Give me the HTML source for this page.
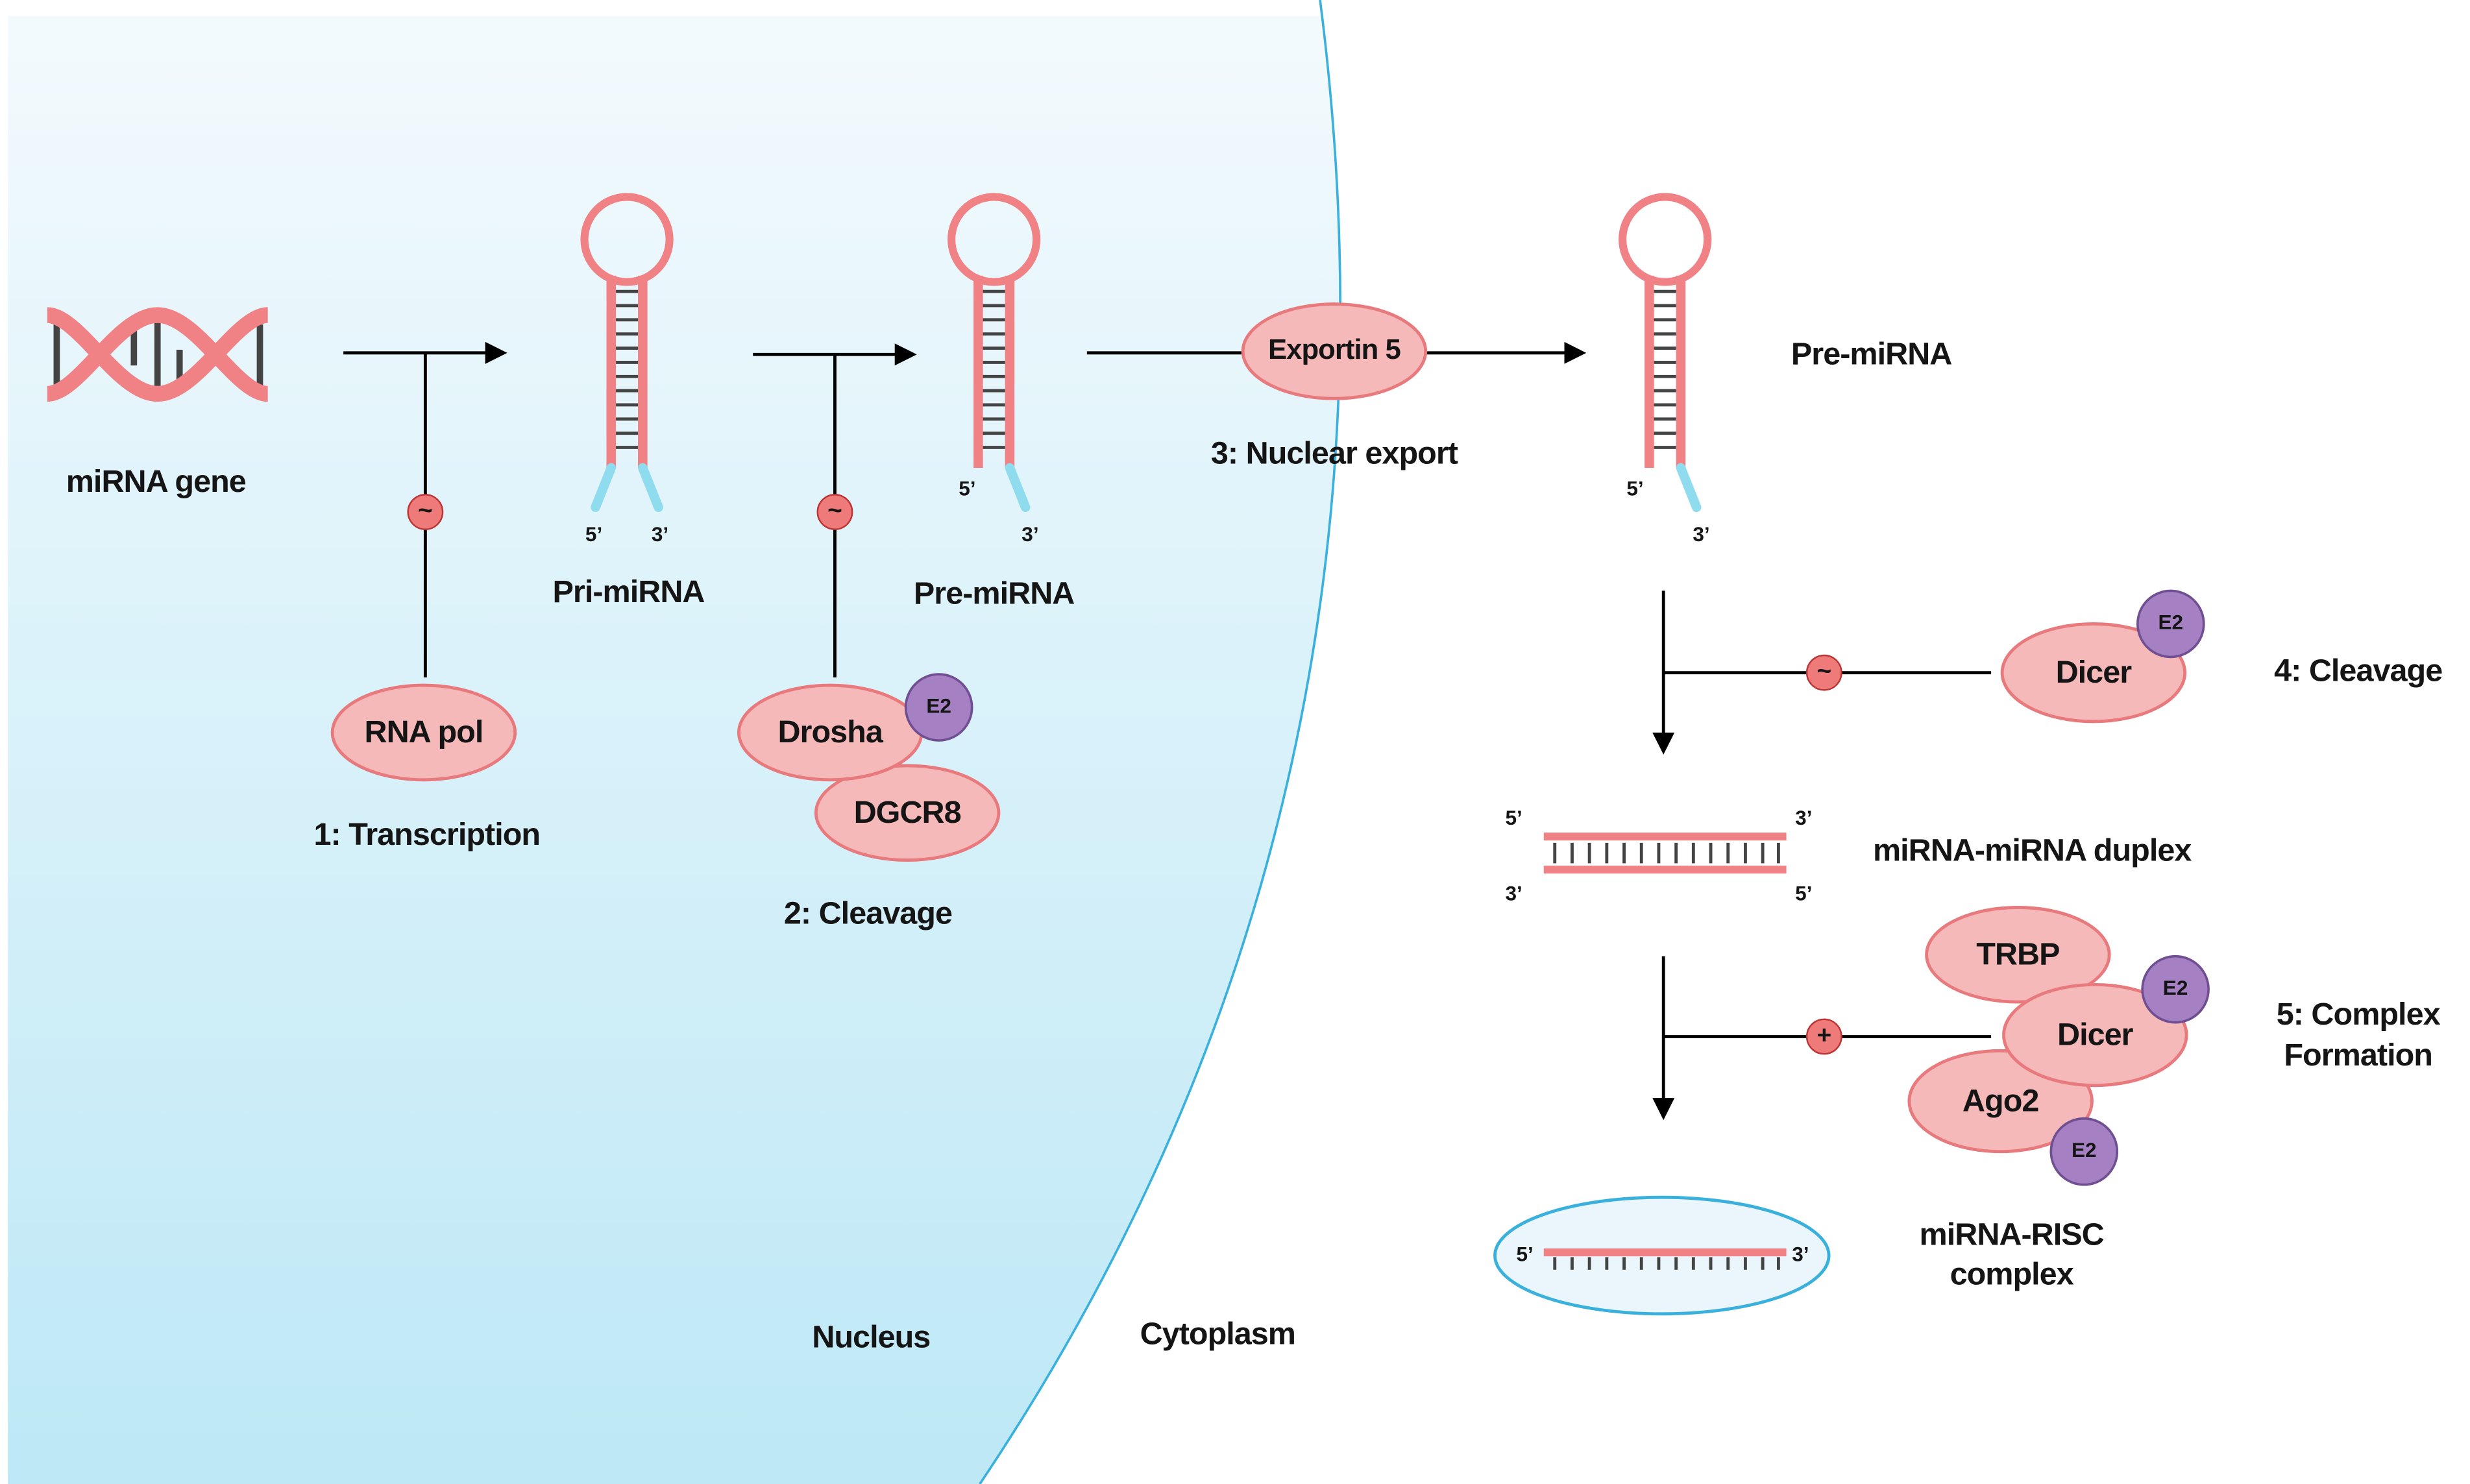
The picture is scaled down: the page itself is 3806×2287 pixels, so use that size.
<!DOCTYPE html>
<html><head><meta charset="utf-8"><style>
html,body{margin:0;padding:0;background:#fff}
svg{display:block}
text{font-family:"Liberation Sans",Arial,sans-serif;font-weight:bold;fill:#151515;text-anchor:middle;dominant-baseline:middle}
.t{font-size:20px;letter-spacing:-0.4px}.s{font-size:13px}.e{font-size:13px}
.p{fill:#f5b9b9;stroke:#e8797d;stroke-width:2}
.q{fill:#a581c3;stroke:#6f4f91;stroke-width:1.5}
.stem{stroke:#f08285;stroke-width:6;fill:none}
.bar{stroke:#444;stroke-width:2}
.tail{stroke:#8fdcef;stroke-width:6;stroke-linecap:round}
.ln{stroke:#000;stroke-width:2;fill:none}
</style></head><body>
<svg width="3806" height="2287" viewBox="0 0 1568 942" preserveAspectRatio="none">
<defs>
<linearGradient id="g" x1="0" y1="0" x2="0" y2="1"><stop offset="0" stop-color="#f3fafd"/><stop offset="1" stop-color="#bde8f6"/></linearGradient>
<marker id="ar" markerWidth="14" markerHeight="14" refX="12" refY="7" orient="auto" markerUnits="userSpaceOnUse"><path d="M0,0 L14,7 L0,14 Z" fill="#000"/></marker>
<g id="hp">
<circle cx="0" cy="-73" r="27" fill="none" stroke="#f08285" stroke-width="5"/>
<line class="stem" x1="-10" y1="-50" x2="-10" y2="72"/><line class="stem" x1="10" y1="-50" x2="10" y2="72"/>
<g class="bar"><line x1="-7" y1="-40" x2="7" y2="-40"/><line x1="-7" y1="-31" x2="7" y2="-31"/><line x1="-7" y1="-22" x2="7" y2="-22"/><line x1="-7" y1="-13" x2="7" y2="-13"/><line x1="-7" y1="-4" x2="7" y2="-4"/><line x1="-7" y1="5" x2="7" y2="5"/><line x1="-7" y1="14" x2="7" y2="14"/><line x1="-7" y1="23" x2="7" y2="23"/><line x1="-7" y1="32" x2="7" y2="32"/><line x1="-7" y1="41" x2="7" y2="41"/><line x1="-7" y1="50" x2="7" y2="50"/><line x1="-7" y1="59" x2="7" y2="59"/></g>
</g>
</defs>
<path d="M5,10 L838,10 Q905,520 622,942 L5,942 Z" fill="url(#g)"/>
<path d="M838,0 Q905,520 622,942" fill="none" stroke="#3ab0dd" stroke-width="1.5"/>

<g stroke="#444" stroke-width="4"><line x1="36" y1="206" x2="36" y2="246"/><line x1="85" y1="208" x2="85" y2="232"/><line x1="100" y1="205" x2="100" y2="245"/><line x1="114" y1="222" x2="114" y2="245"/><line x1="165" y1="206" x2="165" y2="246"/></g>
<g fill="none" stroke="#f08285" stroke-width="10"><path d="M30,200 C50,200 75,250 100,250 C125,250 150,200 170,200"/><path d="M30,250 C50,250 75,200 100,200 C125,200 150,250 170,250"/></g>
<text class="t" x="99" y="307">miRNA gene</text>

<line class="ln" x1="218" y1="224" x2="320" y2="224" marker-end="url(#ar)"/>
<line class="ln" x1="270" y1="224" x2="270" y2="430"/>
<circle cx="270" cy="325" r="11" fill="#ee7a7a" stroke="#b33" stroke-width="1"/><text x="270" y="325" style="font-size:16px">~</text>
<ellipse class="p" cx="269" cy="465" rx="58" ry="30"/><text class="t" x="269" y="466">RNA pol</text>
<text class="t" x="271" y="531">1: Transcription</text>

<use href="#hp" x="398" y="225"/>
<line class="tail" x1="388" y1="297" x2="378" y2="322"/><line class="tail" x1="408" y1="297" x2="418" y2="322"/>
<text class="s" x="377" y="340">5’</text><text class="s" x="419" y="340">3’</text>
<text class="t" x="399" y="377">Pri-miRNA</text>

<line class="ln" x1="478" y1="225" x2="580" y2="225" marker-end="url(#ar)"/>
<line class="ln" x1="530" y1="225" x2="530" y2="430"/>
<circle cx="530" cy="325" r="11" fill="#ee7a7a" stroke="#b33" stroke-width="1"/><text x="530" y="325" style="font-size:16px">~</text>
<ellipse class="p" cx="576" cy="516" rx="58" ry="30"/><text class="t" x="576" y="517">DGCR8</text>
<ellipse class="p" cx="527" cy="465" rx="58" ry="30"/><text class="t" x="527" y="466">Drosha</text>
<circle class="q" cx="596" cy="449" r="21"/><text class="e" x="596" y="449">E2</text>
<text class="t" x="551" y="581">2: Cleavage</text>

<use href="#hp" x="631" y="225"/>
<line class="tail" x1="641" y1="297" x2="651" y2="322"/>
<text class="s" x="614" y="311">5’</text><text class="s" x="654" y="340">3’</text>
<text class="t" x="631" y="378">Pre-miRNA</text>

<line class="ln" x1="690" y1="224" x2="1005" y2="224" marker-end="url(#ar)"/>
<ellipse class="p" cx="847" cy="223" rx="58" ry="30"/><text class="t" x="847" y="223" style="font-size:18px">Exportin 5</text>
<text class="t" x="847" y="289">3: Nuclear export</text>

<use href="#hp" x="1057" y="225"/>
<line class="tail" x1="1067" y1="297" x2="1077" y2="322"/>
<text class="s" x="1038" y="311">5’</text><text class="s" x="1080" y="340">3’</text>
<text class="t" x="1188" y="226">Pre-miRNA</text>

<line class="ln" x1="1056" y1="375" x2="1056" y2="477" marker-end="url(#ar)"/>
<line class="ln" x1="1056" y1="427" x2="1264" y2="427"/>
<circle cx="1158" cy="427" r="11" fill="#ee7a7a" stroke="#b33" stroke-width="1"/><text x="1158" y="427" style="font-size:16px">~</text>
<ellipse class="p" cx="1329" cy="427" rx="58" ry="31"/><text class="t" x="1329" y="428">Dicer</text>
<circle class="q" cx="1378" cy="396" r="21"/><text class="e" x="1378" y="396">E2</text>
<text class="t" x="1497" y="427">4: Cleavage</text>

<line x1="980" y1="531" x2="1134" y2="531" stroke="#f08285" stroke-width="5"/>
<line x1="980" y1="552" x2="1134" y2="552" stroke="#f08285" stroke-width="5"/>
<g class="bar"><line x1="987" y1="535" x2="987" y2="548"/><line x1="998" y1="535" x2="998" y2="548"/><line x1="1009" y1="535" x2="1009" y2="548"/><line x1="1020" y1="535" x2="1020" y2="548"/><line x1="1031" y1="535" x2="1031" y2="548"/><line x1="1042" y1="535" x2="1042" y2="548"/><line x1="1053" y1="535" x2="1053" y2="548"/><line x1="1064" y1="535" x2="1064" y2="548"/><line x1="1075" y1="535" x2="1075" y2="548"/><line x1="1086" y1="535" x2="1086" y2="548"/><line x1="1097" y1="535" x2="1097" y2="548"/><line x1="1108" y1="535" x2="1108" y2="548"/><line x1="1119" y1="535" x2="1119" y2="548"/><line x1="1129" y1="535" x2="1129" y2="548"/></g>
<text class="s" x="961" y="520">5’</text><text class="s" x="1145" y="520">3’</text><text class="s" x="961" y="568">3’</text><text class="s" x="1145" y="568">5’</text>
<text class="t" x="1290" y="541">miRNA-miRNA duplex</text>

<line class="ln" x1="1056" y1="607" x2="1056" y2="709" marker-end="url(#ar)"/>
<line class="ln" x1="1056" y1="658" x2="1264" y2="658"/>
<circle cx="1158" cy="658" r="11" fill="#ee7a7a" stroke="#b33" stroke-width="1"/><text x="1158" y="658" style="font-size:16px">+</text>
<ellipse class="p" cx="1281" cy="606" rx="58" ry="30"/><text class="t" x="1281" y="607">TRBP</text>
<ellipse class="p" cx="1270" cy="699" rx="58" ry="32"/><text class="t" x="1270" y="700">Ago2</text>
<ellipse class="p" cx="1330" cy="657" rx="58" ry="32"/><text class="t" x="1330" y="658">Dicer</text>
<circle class="q" cx="1381" cy="628" r="21"/><text class="e" x="1381" y="628">E2</text>
<circle class="q" cx="1323" cy="731" r="21"/><text class="e" x="1323" y="731">E2</text>
<text class="t" x="1497" y="645">5: Complex</text><text class="t" x="1497" y="671">Formation</text>

<ellipse cx="1055" cy="797" rx="106" ry="37" fill="#eaf6fb" stroke="#3ab0dd" stroke-width="2"/>
<line x1="980" y1="795" x2="1134" y2="795" stroke="#f08285" stroke-width="5"/>
<g class="bar"><line x1="987" y1="798" x2="987" y2="806"/><line x1="998" y1="798" x2="998" y2="806"/><line x1="1009" y1="798" x2="1009" y2="806"/><line x1="1020" y1="798" x2="1020" y2="806"/><line x1="1031" y1="798" x2="1031" y2="806"/><line x1="1042" y1="798" x2="1042" y2="806"/><line x1="1053" y1="798" x2="1053" y2="806"/><line x1="1064" y1="798" x2="1064" y2="806"/><line x1="1075" y1="798" x2="1075" y2="806"/><line x1="1086" y1="798" x2="1086" y2="806"/><line x1="1097" y1="798" x2="1097" y2="806"/><line x1="1108" y1="798" x2="1108" y2="806"/><line x1="1119" y1="798" x2="1119" y2="806"/><line x1="1129" y1="798" x2="1129" y2="806"/></g>
<text class="s" x="968" y="797">5’</text><text class="s" x="1143" y="797">3’</text>
<text class="t" x="1277" y="785">miRNA-RISC</text><text class="t" x="1277" y="810">complex</text>

<text class="t" x="553" y="850">Nucleus</text>
<text class="t" x="773" y="848">Cytoplasm</text>
</svg>
</body></html>
